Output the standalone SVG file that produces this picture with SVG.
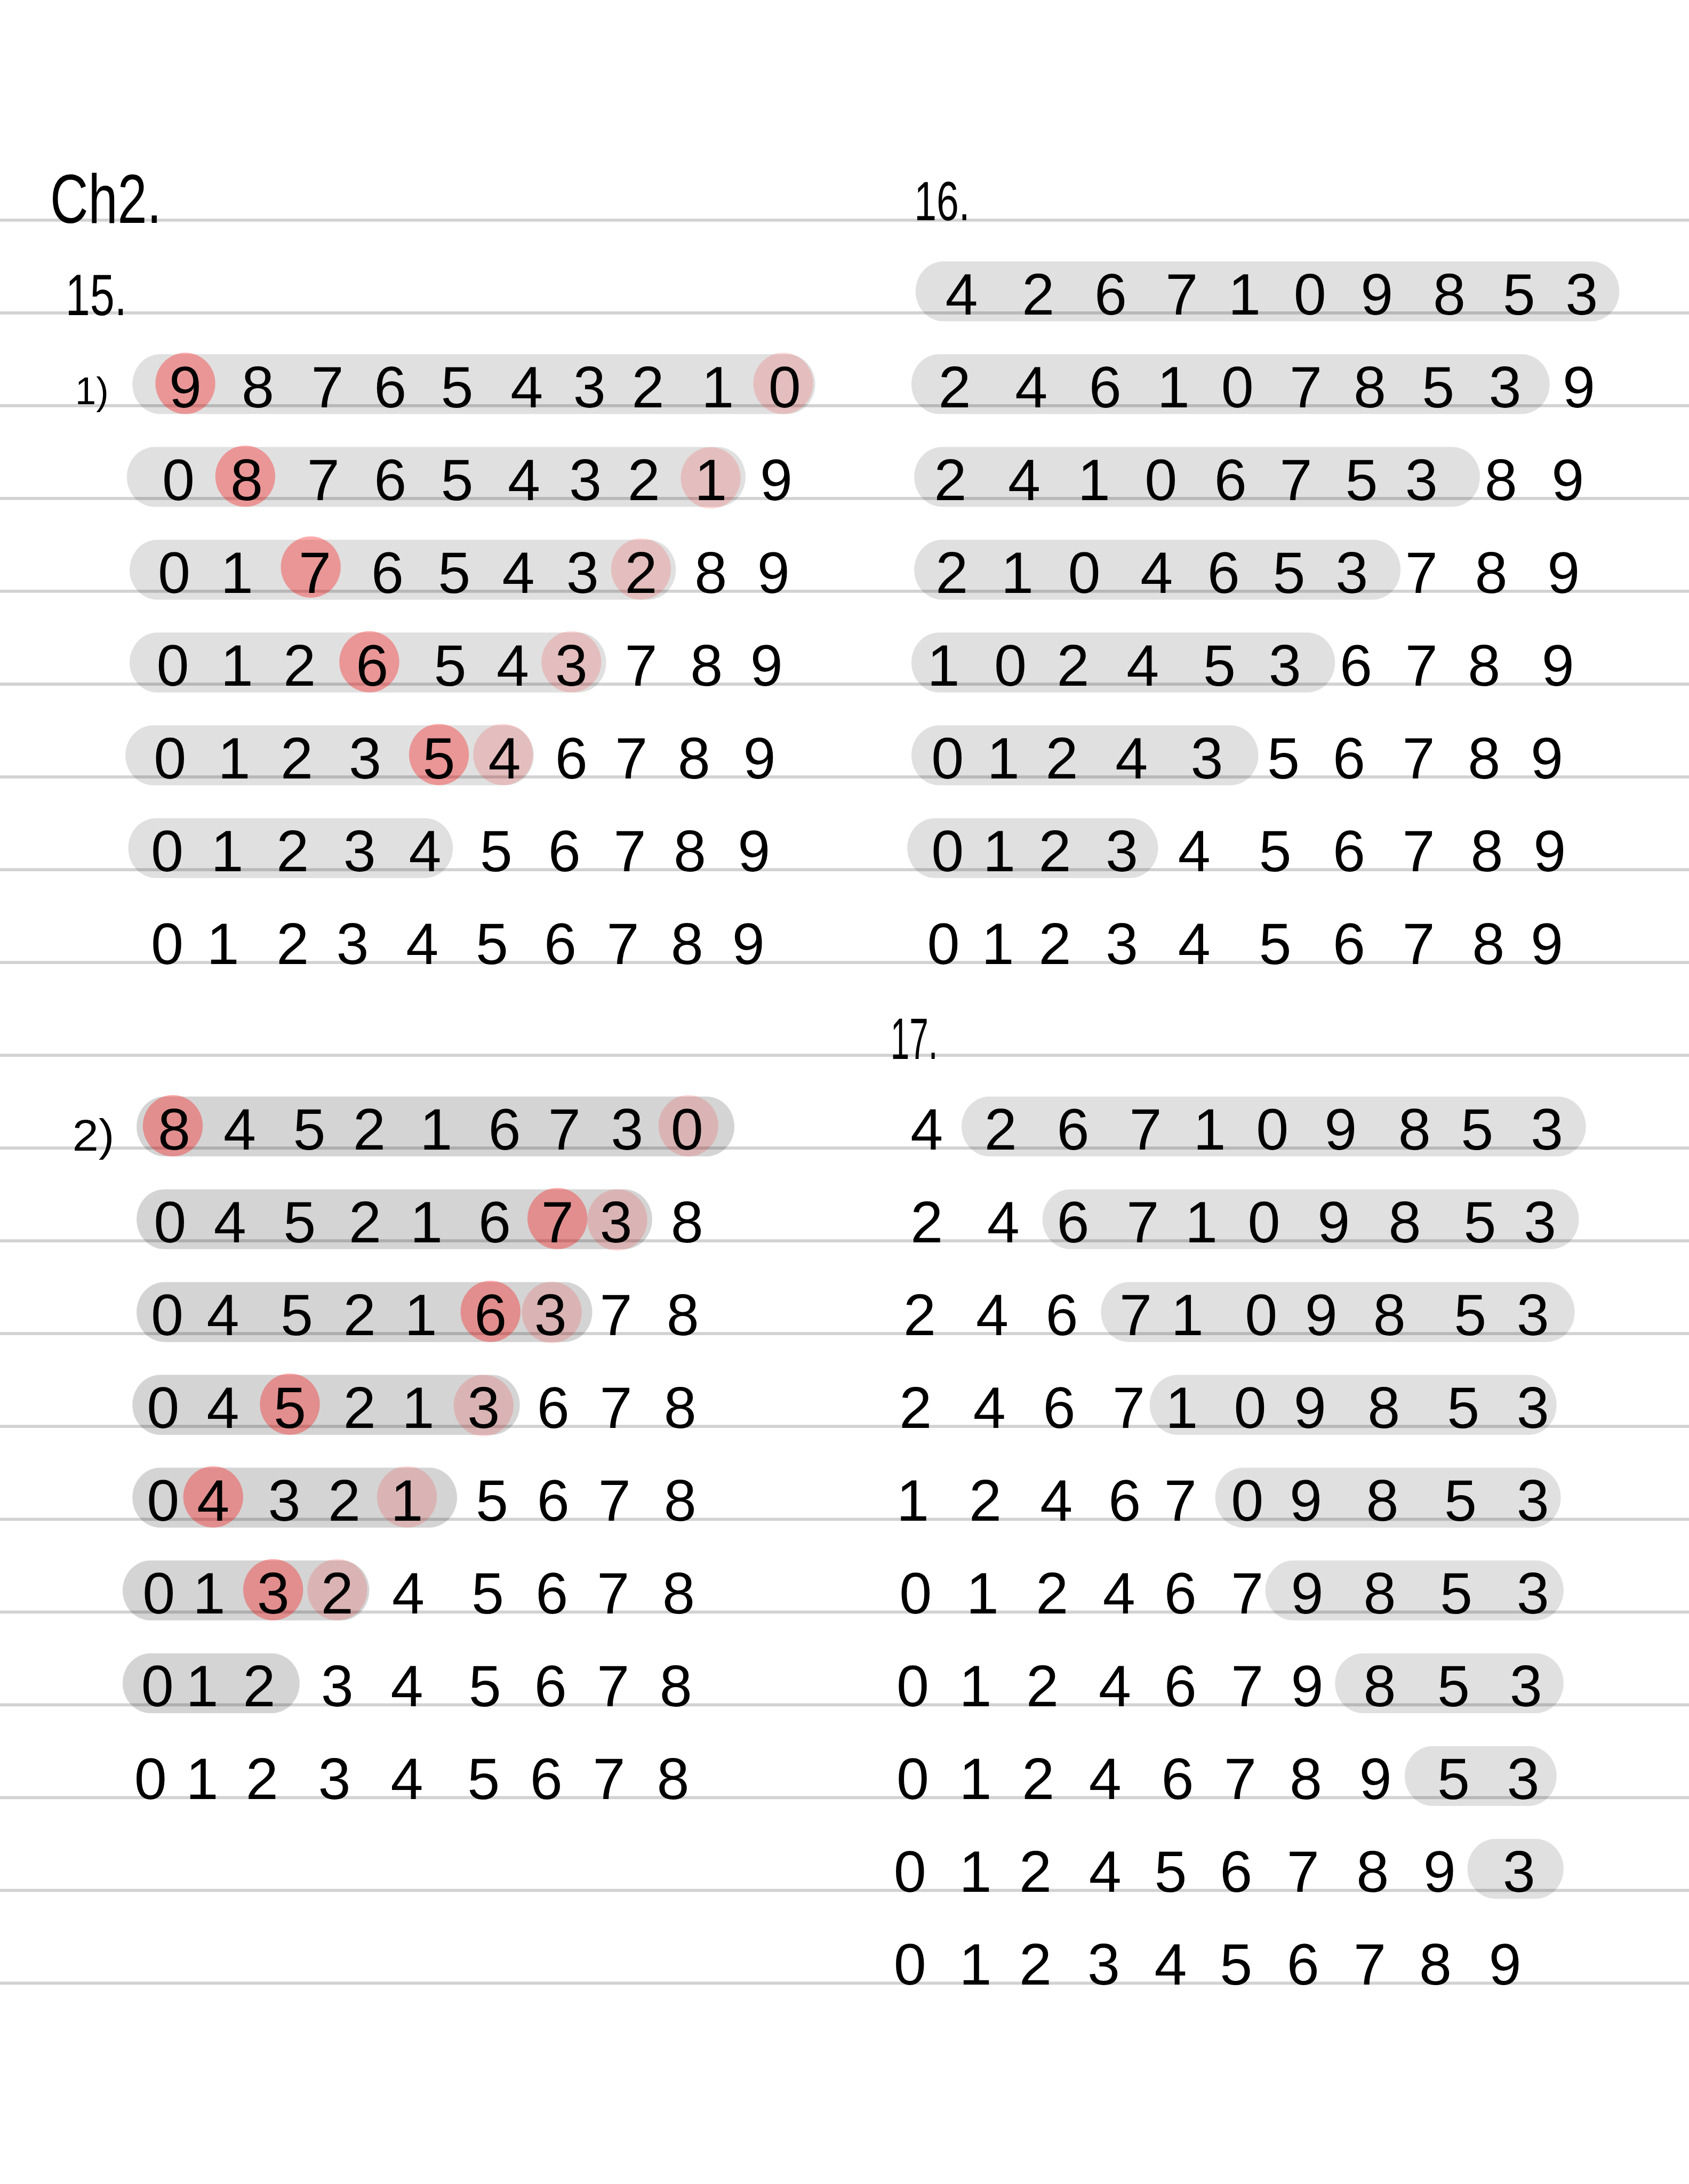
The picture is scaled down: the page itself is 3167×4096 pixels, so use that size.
<svg xmlns="http://www.w3.org/2000/svg" width="3167" height="4096" viewBox="0 0 3167 4096">
<style>
.ln{stroke:#d2d2d2;stroke-width:2.2}
.cap{fill:#000;fill-opacity:0.12}
.cap2{fill:#000;fill-opacity:0.17}
.hot{fill:#ff0000;fill-opacity:0.33}
.warm{fill:#ff0000;fill-opacity:0.15}
.d{font-family:"Liberation Sans","DejaVu Sans",sans-serif;font-size:42px;text-anchor:middle;fill:#000}
.lbl{font-family:"Liberation Sans","DejaVu Sans",sans-serif;fill:#000}
</style>
<rect width="3167" height="4096" fill="#fff"/>
<g transform="scale(2.61304)">
<g id="ruled-lines">
<line class="ln" x1="0" x2="1212" y1="158" y2="158"/>
<line class="ln" x1="0" x2="1212" y1="224.6" y2="224.6"/>
<line class="ln" x1="0" x2="1212" y1="291.2" y2="291.2"/>
<line class="ln" x1="0" x2="1212" y1="357.8" y2="357.8"/>
<line class="ln" x1="0" x2="1212" y1="424.4" y2="424.4"/>
<line class="ln" x1="0" x2="1212" y1="491" y2="491"/>
<line class="ln" x1="0" x2="1212" y1="557.6" y2="557.6"/>
<line class="ln" x1="0" x2="1212" y1="624.2" y2="624.2"/>
<line class="ln" x1="0" x2="1212" y1="690.8" y2="690.8"/>
<line class="ln" x1="0" x2="1212" y1="757.4" y2="757.4"/>
<line class="ln" x1="0" x2="1212" y1="824" y2="824"/>
<line class="ln" x1="0" x2="1212" y1="890.6" y2="890.6"/>
<line class="ln" x1="0" x2="1212" y1="957.2" y2="957.2"/>
<line class="ln" x1="0" x2="1212" y1="1023.8" y2="1023.8"/>
<line class="ln" x1="0" x2="1212" y1="1090.4" y2="1090.4"/>
<line class="ln" x1="0" x2="1212" y1="1157" y2="1157"/>
<line class="ln" x1="0" x2="1212" y1="1223.6" y2="1223.6"/>
<line class="ln" x1="0" x2="1212" y1="1290.2" y2="1290.2"/>
<line class="ln" x1="0" x2="1212" y1="1356.8" y2="1356.8"/>
<line class="ln" x1="0" x2="1212" y1="1423.4" y2="1423.4"/>
</g>
<g id="labels">
<text class="lbl" x="36" y="160" font-size="50" textLength="80" lengthAdjust="spacingAndGlyphs">Ch2.</text>
<text class="lbl" x="47" y="226" font-size="42" textLength="44" lengthAdjust="spacingAndGlyphs">15.</text>
<text class="lbl" x="656" y="158" font-size="40" textLength="40" lengthAdjust="spacingAndGlyphs">16.</text>
<text class="lbl" x="639" y="760" font-size="42" textLength="34" lengthAdjust="spacingAndGlyphs">17.</text>
<text class="lbl" x="54" y="290" font-size="28" textLength="24" lengthAdjust="spacingAndGlyphs">1)</text>
<text class="lbl" x="52" y="826" font-size="32" textLength="30" lengthAdjust="spacingAndGlyphs">2)</text>
</g>
<!-- 15 part 1 -->
<g id="p15-1-r1">
<rect class="cap" x="95" y="254.2" width="490" height="43" rx="20" ry="21.5"/>
<ellipse class="hot" cx="133" cy="275.2" rx="21.5" ry="22"/>
<ellipse class="warm" cx="562" cy="275.2" rx="21.5" ry="22"/>
<text class="d" x="133 185 235 280 328 378 423 465 515 563" y="292.2">9876543210</text>
</g>
<g id="p15-1-r2">
<rect class="cap" x="91" y="320.8" width="444" height="43" rx="20" ry="21.5"/>
<ellipse class="hot" cx="176" cy="341.8" rx="21.5" ry="22"/>
<ellipse class="warm" cx="510" cy="343" rx="21.5" ry="22"/>
<text class="d" x="128 177 232 280 328 376 420 462 510 557" y="358.8">0876543219</text>
</g>
<g id="p15-1-r3">
<rect class="cap" x="93" y="387.4" width="392" height="43" rx="20" ry="21.5"/>
<ellipse class="hot" cx="223" cy="407" rx="21.5" ry="22"/>
<ellipse class="warm" cx="460" cy="408.4" rx="21.5" ry="22"/>
<text class="d" x="125 170 226 278 326 372 418 460 510 555" y="425.4">0176543289</text>
</g>
<g id="p15-1-r4">
<rect class="cap" x="93" y="454" width="342" height="43" rx="20" ry="21.5"/>
<ellipse class="hot" cx="265" cy="475" rx="21.5" ry="22"/>
<ellipse class="warm" cx="410" cy="475" rx="21.5" ry="22"/>
<text class="d" x="124 170 215 267 323 368 410 460 507 550" y="492">0126543789</text>
</g>
<g id="p15-1-r5">
<rect class="cap" x="90" y="520.6" width="293" height="43" rx="20" ry="21.5"/>
<ellipse class="hot" cx="315" cy="541.6" rx="21.5" ry="22"/>
<ellipse class="warm" cx="361" cy="541.6" rx="21.5" ry="22"/>
<text class="d" x="122 168 213 262 315 362 410 453 498 545" y="558.6">0123546789</text>
</g>
<g id="p15-1-r6">
<rect class="cap" x="92" y="587.2" width="233" height="43" rx="20" ry="21.5"/>
<text class="d" x="120 163 210 258 305 356 405 452 495 541" y="625.2">0123456789</text>
</g>
<g id="p15-1-r7">
<text class="d" x="120 160 210 253 303 353 402 447 493 537" y="691.8">0123456789</text>
</g>
<!-- 15 part 2 -->
<g id="p15-2-r1">
<rect class="cap2" x="98" y="787" width="429" height="43" rx="20" ry="21.5"/>
<ellipse class="hot" cx="124" cy="808" rx="21.5" ry="22"/>
<ellipse class="warm" cx="494" cy="808" rx="21.5" ry="22"/>
<text class="d" x="125 172 222 265 313 362 405 450 493" y="825">845216730</text>
</g>
<g id="p15-2-r2">
<rect class="cap2" x="98" y="853.6" width="370" height="43" rx="20" ry="21.5"/>
<ellipse class="hot" cx="400" cy="874.6" rx="21.5" ry="22"/>
<ellipse class="warm" cx="443" cy="875.6" rx="21.5" ry="22"/>
<text class="d" x="122 165 215 262 306 355 400 442 493" y="891.6">045216738</text>
</g>
<g id="p15-2-r3">
<rect class="cap2" x="98" y="920.2" width="327" height="43" rx="20" ry="21.5"/>
<ellipse class="hot" cx="352" cy="941.2" rx="21.5" ry="22"/>
<ellipse class="warm" cx="396" cy="942" rx="21.5" ry="22"/>
<text class="d" x="120 160 213 258 302 352 395 442 490" y="958.2">045216378</text>
</g>
<g id="p15-2-r4">
<rect class="cap2" x="95" y="986.8" width="278" height="43" rx="20" ry="21.5"/>
<ellipse class="hot" cx="208" cy="1007.8" rx="21.5" ry="22"/>
<ellipse class="warm" cx="347" cy="1008.8" rx="21.5" ry="22"/>
<text class="d" x="117 160 208 258 300 347 397 442 488" y="1024.8">045213678</text>
</g>
<g id="p15-2-r5">
<rect class="cap2" x="95" y="1053.4" width="233" height="43" rx="20" ry="21.5"/>
<ellipse class="hot" cx="153" cy="1074.4" rx="21.5" ry="22"/>
<ellipse class="warm" cx="292" cy="1074.4" rx="21.5" ry="22"/>
<text class="d" x="117 153 204 247 292 353 397 441 488" y="1091.4">043215678</text>
</g>
<g id="p15-2-r6">
<rect class="cap2" x="88" y="1120" width="177" height="43" rx="20" ry="21.5"/>
<ellipse class="hot" cx="196" cy="1141" rx="21.5" ry="22"/>
<ellipse class="warm" cx="242" cy="1141" rx="21.5" ry="22"/>
<text class="d" x="114 150 196 242 293 350 396 440 487" y="1158">013245678</text>
</g>
<g id="p15-2-r7">
<rect class="cap2" x="88" y="1186.6" width="127" height="43" rx="20" ry="21.5"/>
<text class="d" x="113 145 186 242 292 348 395 440 485" y="1224.6">012345678</text>
</g>
<g id="p15-2-r8">
<text class="d" x="108 145 188 240 292 347 392 437 483" y="1291.2">012345678</text>
</g>
<!-- 16 -->
<g id="p16-r1">
<rect class="cap" x="657" y="187.6" width="505" height="43" rx="20" ry="21.5"/>
<text class="d" x="690 745 797 848 893 940 988 1040 1090 1135" y="225.6">4267109853</text>
</g>
<g id="p16-r2">
<rect class="cap" x="654" y="254.2" width="458" height="43" rx="20" ry="21.5"/>
<text class="d" x="685 740 793 842 888 937 983 1032 1080 1133" y="292.2">2461078539</text>
</g>
<g id="p16-r3">
<rect class="cap" x="656" y="320.8" width="406" height="43" rx="20" ry="21.5"/>
<text class="d" x="682 735 785 833 883 930 977 1020 1077 1125" y="358.8">2410675389</text>
</g>
<g id="p16-r4">
<rect class="cap" x="656" y="387.4" width="349" height="43" rx="20" ry="21.5"/>
<text class="d" x="683 730 778 830 878 925 970 1020 1070 1122" y="425.4">2104653789</text>
</g>
<g id="p16-r5">
<rect class="cap" x="654" y="454" width="304" height="43" rx="20" ry="21.5"/>
<text class="d" x="677 725 770 820 875 922 973 1020 1065 1118" y="492">1024536789</text>
</g>
<g id="p16-r6">
<rect class="cap" x="654" y="520.6" width="249" height="43" rx="20" ry="21.5"/>
<text class="d" x="680 720 762 812 866 921 968 1018 1065 1110" y="558.6">0124356789</text>
</g>
<g id="p16-r7">
<rect class="cap" x="651" y="587.2" width="180" height="43" rx="20" ry="21.5"/>
<text class="d" x="680 717 757 805 857 915 968 1018 1067 1112" y="625.2">0123456789</text>
</g>
<g id="p16-r8">
<text class="d" x="677 716 757 805 857 915 968 1018 1068 1110" y="691.8">0123456789</text>
</g>
<!-- 17 -->
<g id="p17-r1">
<rect class="cap" x="690" y="787" width="448" height="43" rx="20" ry="21.5"/>
<text class="d" x="665 718 770 822 868 913 962 1015 1060 1110" y="825">4267109853</text>
</g>
<g id="p17-r2">
<rect class="cap" x="748" y="853.6" width="385" height="43" rx="20" ry="21.5"/>
<text class="d" x="665 720 770 820 862 907 957 1008 1062 1105" y="891.6">2467109853</text>
</g>
<g id="p17-r3">
<rect class="cap" x="790" y="920.2" width="340" height="43" rx="20" ry="21.5"/>
<text class="d" x="660 712 762 815 852 905 948 997 1055 1100" y="958.2">2467109853</text>
</g>
<g id="p17-r4">
<rect class="cap" x="825" y="986.8" width="292" height="43" rx="20" ry="21.5"/>
<text class="d" x="657 710 760 810 848 897 940 993 1050 1100" y="1024.8">2467109853</text>
</g>
<g id="p17-r5">
<rect class="cap" x="872" y="1053.4" width="248" height="43" rx="20" ry="21.5"/>
<text class="d" x="655 707 758 807 847 895 937 992 1048 1100" y="1091.4">1246709853</text>
</g>
<g id="p17-r6">
<rect class="cap" x="908" y="1120" width="214" height="43" rx="20" ry="21.5"/>
<text class="d" x="657 705 755 803 847 895 938 990 1045 1100" y="1158">0124679853</text>
</g>
<g id="p17-r7">
<rect class="cap" x="958" y="1186.6" width="164" height="43" rx="20" ry="21.5"/>
<text class="d" x="655 700 748 800 847 895 938 990 1043 1095" y="1224.6">0124679853</text>
</g>
<g id="p17-r8">
<rect class="cap" x="1008" y="1253.2" width="109" height="43" rx="20" ry="21.5"/>
<text class="d" x="655 700 745 793 845 890 937 987 1043 1093" y="1291.2">0124678953</text>
</g>
<g id="p17-r9">
<rect class="cap" x="1053" y="1319.8" width="69" height="43" rx="20" ry="21.5"/>
<text class="d" x="653 700 743 793 840 887 935 985 1033 1090" y="1357.8">0124567893</text>
</g>
<g id="p17-r10">
<text class="d" x="653 700 743 792 840 887 935 983 1030 1080" y="1424.4">0123456789</text>
</g>
</g>
</svg>
